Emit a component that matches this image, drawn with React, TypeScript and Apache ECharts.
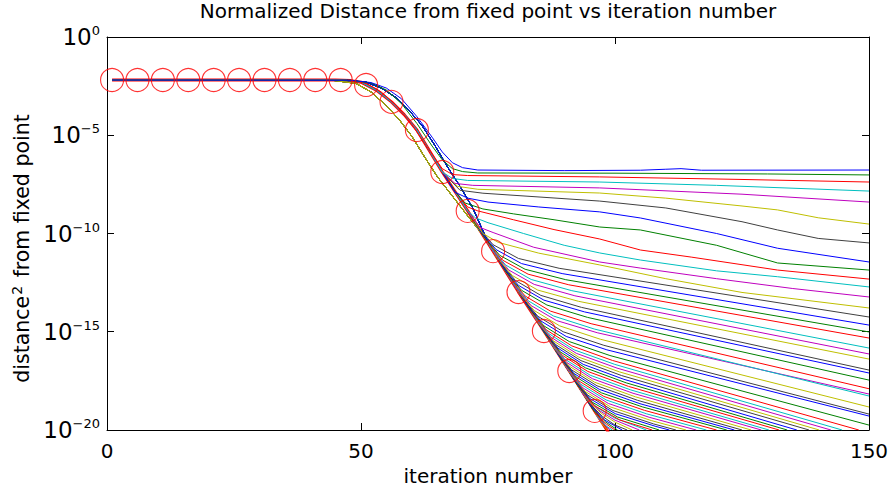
import React, { useEffect, useRef } from 'react';
import * as echarts from 'echarts';

const FONT = 'DejaVu Sans';
const titleText = 'Normalized Distance from fixed point vs iteration number';
const xAxisTitle = 'iteration number';
const xTickValues = [0, 50, 100, 150];
const yTickExponents = [0, -5, -10, -15, -20];
const lineColors = ['#0000ff', '#008000', '#ff0000', '#00bfbf', '#bf00bf', '#bfbf00', '#404040'];

// all values below: [iteration, log10(distance^2)]
const markerIter = [1, 6, 11, 16, 21, 26, 31, 36, 41, 46, 51, 56, 61, 66, 71, 76, 81, 86, 91, 96];
const markerLog = [-2.19, -2.19, -2.19, -2.19, -2.19, -2.19, -2.19, -2.19, -2.19, -2.19, -2.44, -3.3, -4.73, -6.87, -8.85, -10.9, -12.98, -14.96, -17.0, -19.03];

const trunkMain = [[1, -2.19], [45, -2.19], [48, -2.22], [50, -2.3], [53, -2.7], [56, -3.3], [58.5, -3.95], [61, -4.73], [63.5, -5.8], [66, -6.87], [68.5, -7.86], [71, -8.85], [76, -10.9], [81, -12.98], [86, -14.96], [91, -17.0], [96, -19.03], [100, -20.65]];
const trunkLead = [[1, -2.19], [44, -2.19], [49, -2.36], [52, -2.8], [55, -3.5], [57.5, -4.2], [60, -5.05], [62.5, -6.1], [65, -7.1], [68, -8.1], [71, -9.1], [74, -10.08]];
const trunkLag = [[1, -2.19], [46, -2.19], [51, -2.3], [54, -2.6], [57, -3.1], [59.5, -3.75], [62, -4.5], [64.5, -5.5], [67, -6.6], [69.5, -7.6], [72, -8.7], [75, -10.45]];

const topLines = [
  [[1, -2.19], [48, -2.2], [52, -2.32], [55, -2.6], [58, -3.15], [61, -4.05], [64, -5.1], [66, -5.85], [68, -6.4], [70, -6.65], [73, -6.77], [90, -6.8], [105, -6.78], [110, -6.73], [113, -6.7], [117, -6.78], [150, -6.77]],
  [[1, -2.19], [48, -2.2], [52, -2.34], [55, -2.7], [58, -3.4], [61, -4.4], [64, -5.55], [66, -6.25], [68, -6.7], [70, -6.85], [73, -6.92], [100, -6.93], [130, -6.97], [150, -7.02]],
  [[1, -2.19], [47, -2.2], [51, -2.35], [54, -2.8], [57, -3.5], [60, -4.45], [63, -5.6], [66, -6.7], [68, -7.0], [71, -7.05], [97, -7.12], [125, -7.25], [150, -7.38]],
];

const upperTails = [
  [[66, -6.87], [68, -7.2], [71, -7.3], [97, -7.38], [120, -7.55], [150, -7.84]],
  [[66, -6.87], [68.5, -7.45], [72, -7.55], [97, -7.68], [125, -8.0], [150, -8.4]],
  [[66, -6.87], [69, -7.6], [73, -7.75], [97, -7.94], [110, -8.2], [125, -8.6], [132, -8.8], [140, -9.2], [150, -9.52]],
  [[66, -6.87], [69.5, -7.8], [74, -7.95], [97, -8.35], [110, -8.7], [125, -9.4], [132, -9.82], [140, -10.25], [150, -10.48]],
  [[66, -6.87], [68.5, -7.9], [71, -8.2], [75, -8.4], [85, -8.65], [97, -8.9], [105, -9.21], [120, -10.0], [132, -10.75], [150, -11.45]],
  [[68.5, -7.86], [70.5, -8.45], [74, -8.75], [80, -9.0], [88, -9.3], [97, -9.67], [105, -9.82], [120, -10.6], [132, -11.5], [150, -11.86]],
  [[68.5, -7.86], [71, -8.65], [73, -8.85], [80, -9.3], [88, -9.8], [97, -10.28], [105, -10.84], [115, -11.2], [132, -11.86], [150, -12.32]],
  [[71, -8.85], [72.5, -9.2], [75, -9.45], [82, -10.0], [90, -10.6], [97, -10.99], [105, -11.35], [120, -11.9], [132, -12.2], [150, -12.72]],
  [[71, -8.85], [73.5, -9.7], [76, -9.95], [84, -10.7], [97, -11.45], [105, -11.76], [120, -12.3], [135, -12.8], [150, -13.23]],
  [[71, -8.85], [74, -10.0], [77, -10.45], [85, -11.0], [97, -11.6], [110, -12.3], [125, -13.0], [150, -13.79]],
];

const midTails = [
  [[73, -9.67], [76, -10.57], [81, -11.27], [89, -11.77], [150, -14.25]],
  [[73.6, -9.92], [76.6, -10.82], [81.6, -11.53], [89.6, -12.04], [150, -14.66]],
  [[74.3, -10.2], [77.3, -11.11], [82.3, -11.82], [90.3, -12.35], [150, -15.01]],
  [[74.9, -10.45], [77.9, -11.36], [82.9, -12.07], [90.9, -12.61], [150, -15.32]],
  [[75.5, -10.7], [78.5, -11.61], [83.5, -12.34], [91.5, -12.91], [150, -15.83]],
  [[76.1, -10.94], [79.1, -11.86], [84.1, -12.59], [92.1, -13.17], [150, -16.13]],
  [[76.8, -11.23], [79.8, -12.14], [84.8, -12.88], [92.8, -13.45], [150, -16.39]],
  [[77.4, -11.47], [80.4, -12.39], [85.4, -13.15], [93.4, -13.76], [150, -16.95]],
  [[78, -11.72], [81, -12.64], [86, -13.39], [94, -13.99], [150, -17.1]],
  [[78.6, -11.97], [81.6, -12.89], [86.6, -13.64], [94.6, -14.27], [150, -17.46]],
  [[79.3, -12.25], [82.3, -13.18], [87.3, -13.95], [95.3, -14.59], [150, -17.9]],
  [[79.9, -12.5], [82.9, -13.42], [87.9, -14.2], [95.9, -14.86], [150, -18.27]],
  [[80.5, -12.75], [83.5, -13.67], [88.5, -14.43], [96.5, -15.05], [150, -18.17]],
  [[81.1, -12.99], [84.1, -13.92], [89.1, -14.7], [97.1, -15.38], [150, -18.83]],
  [[81.8, -13.28], [84.8, -14.21], [89.8, -15.0], [97.8, -15.69], [150, -19.19]],
  [[82.4, -13.52], [85.4, -14.45], [90.4, -15.24], [98.4, -15.92], [150, -19.29]],
  [[83, -13.77], [86, -14.7], [91, -15.5], [99, -16.21], [150, -19.75]],
];

const lowTails = [
  [[83.5, -13.98], [86.5, -14.91], [91.5, -15.72], [99.5, -16.46], [148, -20]],
  [[83.95, -14.16], [86.95, -15.09], [91.95, -15.92], [99.95, -16.66], [144.7, -20]],
  [[84.4, -14.34], [87.4, -15.28], [92.4, -16.1], [100.4, -16.85], [142.5, -20]],
  [[84.85, -14.53], [87.85, -15.46], [92.85, -16.29], [100.85, -17.04], [140.2, -20]],
  [[85.3, -14.71], [88.3, -15.65], [93.3, -16.47], [101.3, -17.23], [138.2, -20]],
  [[85.75, -14.9], [88.75, -15.83], [93.75, -16.66], [101.75, -17.42], [135.8, -20]],
  [[86.2, -15.08], [89.2, -16.02], [94.2, -16.84], [102.2, -17.6], [133.9, -20]],
  [[86.65, -15.27], [89.65, -16.2], [94.65, -17.02], [102.65, -17.78], [132.3, -20]],
  [[87.1, -15.45], [90.1, -16.39], [95.1, -17.21], [103.1, -17.96], [130.3, -20]],
  [[87.55, -15.64], [90.55, -16.57], [95.55, -17.39], [103.55, -18.13], [128.8, -20]],
  [[88, -15.82], [91, -16.75], [96, -17.57], [104, -18.31], [126.8, -20]],
  [[88.45, -16.0], [91.45, -16.94], [96.45, -17.75], [104.45, -18.49], [125, -20]],
  [[88.9, -16.19], [91.9, -17.12], [96.9, -17.93], [104.9, -18.66], [123.5, -20]],
  [[89.35, -16.37], [92.35, -17.3], [97.35, -18.11], [105.35, -18.82], [122, -20]],
  [[89.8, -16.56], [92.8, -17.49], [97.8, -18.29], [105.8, -19.0], [120, -20]],
  [[90.25, -16.74], [93.25, -17.67], [98.25, -18.47], [106.25, -19.18], [118, -20]],
  [[90.7, -16.93], [93.7, -17.86], [98.7, -18.65], [106.7, -19.35], [116, -20]],
  [[91.15, -17.11], [94.15, -18.04], [99.15, -18.83], [107.15, -19.52], [114, -20]],
  [[91.6, -17.3], [94.6, -18.22], [99.6, -19.01], [107.6, -19.69], [112, -20]],
  [[92.05, -17.48], [95.05, -18.4], [100.05, -19.17], [108.05, -19.82], [110.7, -20]],
  [[92.5, -17.67], [95.5, -18.58], [100.5, -19.34], [108.7, -20]],
  [[92.95, -17.85], [95.95, -18.76], [100.95, -19.49], [107.3, -20]],
  [[93.4, -18.03], [96.4, -18.85], [100, -19.4], [106.2, -20]],
  [[93.85, -18.22], [96.85, -19.0], [100, -19.5], [104.8, -20]],
  [[94.3, -18.4], [97.3, -19.15], [100, -19.6], [103.4, -20]],
  [[94.75, -18.59], [97.5, -19.3], [100, -19.75], [102.4, -20]],
  [[95.2, -18.77], [98, -19.5], [101.4, -20]],
  [[95.65, -18.96], [98.2, -19.6], [100.5, -20]],
  [[96.1, -19.15], [98.3, -19.7], [100, -20]],
  [[96.55, -19.33], [98.3, -19.8], [99.5, -20]],
  [[97, -19.5], [99, -20]],
  [[97.45, -19.69], [98.5, -20]],
];

function buildLines(): number[][][] {
  const lines: number[][][] = topLines.map((l) => l.slice());
  const tails = [...upperTails, ...midTails, ...lowTails];
  tails.forEach((tail, k) => {
    const lineNo = k + 4;
    const colorSlot = (lineNo - 1) % 7;
    let trunk = trunkMain;
    if (lineNo >= 18) {
      if (colorSlot === 5 || colorSlot === 6) trunk = trunkLead;
      else if (colorSlot === 0 || colorSlot === 1) trunk = trunkLag;
    }
    const x0 = tail[0][0];
    const pre = trunk.filter((p) => p[0] < x0 - 0.2);
    lines.push([...pre, ...tail]);
  });
  return lines;
}

const toVal = (pts: number[][]) => pts.map(([x, e]) => [x, Math.pow(10, e)]);

export default function App() {
  const ref = useRef<HTMLDivElement>(null);
  useEffect(() => {
    document.body.style.margin = '0';
    if (!ref.current) return;
    const chart = echarts.init(ref.current, null, { renderer: 'svg' });
    const lines = buildLines();
    const yTickValues = yTickExponents.map((e) => Math.pow(10, e));
    const tickStyle = { color: '#000', width: 1 };
    const seriesList: any[] = [];
    seriesList.push({
      type: 'line',
      data: toVal(trunkMain),
      showSymbol: false,
      symbol: 'none',
      lineStyle: { color: '#ff0000', width: 3 },
      silent: true,
      clip: true,
      z: 2,
    });
    // draw the later lines first so the first ones end up on top
    for (let i = lines.length - 1; i >= 0; i--) {
      seriesList.push({
        type: 'line',
        data: toVal(lines[i]),
        showSymbol: false,
        symbol: 'none',
        lineStyle: { color: lineColors[i % 7], width: 1 },
        silent: true,
        clip: true,
        z: 3,
      });
    }
    seriesList.push({
      type: 'scatter',
      data: markerIter.map((x, i) => [x, Math.pow(10, markerLog[i])]),
      symbol: 'circle',
      symbolSize: 23,
      itemStyle: { color: 'rgba(0,0,0,0)', borderColor: '#ff0000', borderWidth: 1.1 },
      silent: true,
      z: 5,
    });
    const yLabelFormatter = (v: number) => {
      const e = Math.round(Math.log10(v));
      const s = e === 0 ? '0' : '\u2212' + Math.abs(e);
      return '{b|10}{s|' + s + '}';
    };
    chart.setOption({
      animation: false,
      backgroundColor: '#ffffff',
      title: {
        text: titleText,
        left: 488,
        top: 1,
        padding: 0,
        textAlign: 'center',
        textStyle: { fontFamily: FONT, fontSize: 20, fontWeight: 'normal', color: '#000' },
      },
      grid: { left: 107, right: 24, top: 37, bottom: 60, containLabel: false, outerBoundsMode: 'none' },
      xAxis: [
        {
          type: 'value',
          min: 0,
          max: 150,
          interval: 50,
          position: 'bottom',
          name: xAxisTitle,
          nameLocation: 'middle',
          nameGap: 23,
          nameTextStyle: { fontFamily: FONT, fontSize: 20, color: '#000' },
          axisLine: { show: true, onZero: false, lineStyle: tickStyle },
          axisTick: { show: true, inside: true, length: 7, lineStyle: tickStyle, customValues: xTickValues },
          axisLabel: { show: true, margin: 11, fontFamily: FONT, fontSize: 20, color: '#000', customValues: xTickValues },
          splitLine: { show: false },
        },
        {
          type: 'value',
          min: 0,
          max: 150,
          interval: 50,
          position: 'top',
          axisLine: { show: true, onZero: false, lineStyle: tickStyle },
          axisTick: { show: true, inside: true, length: 7, lineStyle: tickStyle },
          axisLabel: { show: false },
          splitLine: { show: false },
        },
      ],
      yAxis: [
        {
          type: 'log',
          logBase: 10,
          min: 1e-20,
          max: 1,
          position: 'left',
          name: '{a|distance}{s|2}{a| from fixed point}',
          nameLocation: 'middle',
          nameRotate: 90,
          nameGap: 68,
          nameTextStyle: {
            fontFamily: FONT,
            fontSize: 20,
            color: '#000',
            padding: [0, 30, 0, 0],
            rich: {
              a: { fontFamily: FONT, fontSize: 20.5, color: '#000', lineHeight: 24 },
              s: { fontFamily: FONT, fontSize: 14, color: '#000', verticalAlign: 'top', lineHeight: 6, padding: [0, 2, 0, 1] },
            },
          },
          axisLine: { show: true, onZero: false, lineStyle: tickStyle },
          axisTick: { show: true, inside: true, length: 7, lineStyle: tickStyle, customValues: yTickValues },
          minorTick: { show: false },
          axisLabel: {
            show: true,
            margin: 7,
            customValues: yTickValues,
            formatter: yLabelFormatter,
            rich: {
              b: { fontFamily: FONT, fontSize: 23, color: '#000', lineHeight: 26 },
              s: { fontFamily: FONT, fontSize: 13, color: '#000', verticalAlign: 'top', lineHeight: 12 },
            },
          },
          splitLine: { show: false },
        },
        {
          type: 'log',
          logBase: 10,
          min: 1e-20,
          max: 1,
          position: 'right',
          axisLine: { show: true, onZero: false, lineStyle: tickStyle },
          axisTick: { show: true, inside: true, length: 7, lineStyle: tickStyle, customValues: yTickValues },
          minorTick: { show: false },
          axisLabel: { show: false },
          splitLine: { show: false },
        },
      ],
      series: seriesList,
    });
    return () => chart.dispose();
  }, []);
  return <div ref={ref} style={{ position: 'fixed', left: 0, top: 0, width: 893, height: 490, background: '#fff' }} />;
}
